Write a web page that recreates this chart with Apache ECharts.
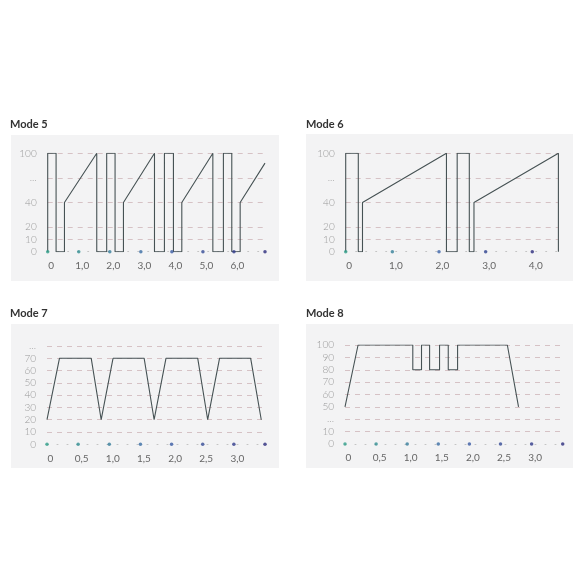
<!doctype html>
<html lang="en">
<head>
  <meta charset="utf-8">
  <title>Modes</title>
  <script src="https://cdn.jsdelivr.net/npm/echarts@6/dist/echarts.min.js"></script>
  <style>
    html, body { margin: 0; padding: 0; background: #ffffff; }
    #chart { width: 585px; height: 585px; }
  </style>
</head>
<body>
  <div id="chart"></div>
  <script type="text/javascript">
    // Mode 5
    let mode5X = [0, 0, 0.27, 0.27, 0.54, 0.54, 1.58, 1.58, 1.90, 1.90, 2.17, 2.17, 2.44, 2.44, 3.44, 3.44,
                  3.76, 3.76, 4.05, 4.05, 4.32, 4.32, 5.32, 5.32, 5.66, 5.66, 5.93, 5.93, 6.20, 6.20, 7.0];
    let mode5Y = [0, 100, 100, 0, 0, 40, 100, 0, 0, 100, 100, 0, 0, 40, 100, 0,
                  0, 100, 100, 0, 0, 40, 100, 0, 0, 100, 100, 0, 0, 40, 88];
    let mode5Ticks = [0, 10, 20, 40, 70, 100];
    let mode5TickLabels = ['0', '10', '20', '40', '...', '100'];
    let mode5Steps = [0, 1, 2, 4, 6, 8];
    let mode5Dots = [0, 1, 2, 3, 4, 5, 6, 7];
    let mode5XLabels = ['0', '1,0', '2,0', '3,0', '4,0', '5,0', '6,0'];

    // Mode 6
    let mode6X = [0, 0, 0.27, 0.27, 0.36, 0.36, 2.16, 2.16, 2.39, 2.39, 2.65, 2.65, 2.75, 2.75, 4.56, 4.56];
    let mode6Y = [0, 100, 100, 0, 0, 40, 100, 0, 0, 100, 100, 0, 0, 40, 100, 0];
    let mode6Dots = [0, 1, 2, 3, 4];
    let mode6XLabels = ['0', '1,0', '2,0', '3,0', '4,0'];

    // Mode 7
    let mode7X = [0, 0.20, 0.71, 0.87, 1.06, 1.56, 1.72, 1.91, 2.42, 2.58, 2.77, 3.27, 3.44];
    let mode7Y = [20, 70, 70, 20, 70, 70, 20, 70, 70, 20, 70, 70, 20];
    let mode7Ticks = [0, 10, 20, 30, 40, 50, 60, 70, 80];
    let mode7TickLabels = ['0', '10', '20', '30', '40', '50', '60', '70', '...'];

    // Mode 8
    let mode8X = [0, 0.21, 1.09, 1.09, 1.23, 1.23, 1.36, 1.36, 1.52, 1.52, 1.66, 1.66, 1.81, 1.81, 2.61, 2.79];
    let mode8Y = [50, 100, 100, 80, 80, 100, 100, 80, 80, 100, 100, 80, 80, 100, 100, 50];
    let mode8Ticks = [0, 10, 30, 50, 60, 70, 80, 90, 100];
    let mode8TickLabels = ['0', '10', '...', '50', '60', '70', '80', '90', '100'];

    let halfDots = [0, 0.5, 1, 1.5, 2, 2.5, 3, 3.5];
    let halfXLabels = ['0', '0,5', '1,0', '1,5', '2,0', '2,5', '3,0'];
    let evenSteps = [0, 1, 2, 3, 4, 5, 6, 7, 8];

    const FONT = 'Lato';
    const LINE_COLOR = '#465254';
    const GRID_COLOR = '#d6c2c5';

    // the y axes are not linear: each labelled level sits on its own step
    const toStep = (v, ticks, steps) => {
      for (let i = 1; i < ticks.length; i++) {
        if (v <= ticks[i]) {
          const t = (v - ticks[i - 1]) / (ticks[i] - ticks[i - 1]);
          return steps[i - 1] + t * (steps[i] - steps[i - 1]);
        }
      }
      return steps[steps.length - 1];
    };

    const mix = (a, b, t) => {
      const pa = [1, 3, 5].map(i => parseInt(a.substr(i, 2), 16));
      const pb = [1, 3, 5].map(i => parseInt(b.substr(i, 2), 16));
      return 'rgb(' + pa.map((c, i) => Math.round(c + (pb[i] - c) * t)).join(',') + ')';
    };

    const panels = [
      { title: 'Mode 5', x: mode5X, y: mode5Y, ticks: mode5Ticks, labels: mode5TickLabels, steps: mode5Steps,
        dots: mode5Dots, xLabels: mode5XLabels, max: 7, interval: 1,
        grid: { left: 47.7, top: 153.3, width: 217.3, height: 98.4 }, box: [11, 135, 268, 146], titleTop: 119, titleLeft: 10 },
      { title: 'Mode 6', x: mode6X, y: mode6Y, ticks: mode5Ticks, labels: mode5TickLabels, steps: mode5Steps,
        dots: mode6Dots, xLabels: mode6XLabels, max: 4.56, interval: 1,
        grid: { left: 345.7, top: 153.3, width: 212.7, height: 98.4 }, box: [306, 134, 267, 147], titleTop: 119, titleLeft: 306 },
      { title: 'Mode 7', x: mode7X, y: mode7Y, ticks: mode7Ticks, labels: mode7TickLabels, steps: evenSteps,
        dots: halfDots, xLabels: halfXLabels, max: 3.5, interval: 0.5,
        grid: { left: 47, top: 346, width: 218, height: 98.3 }, box: [11, 324, 268, 144], titleTop: 308, titleLeft: 10 },
      { title: 'Mode 8', x: mode8X, y: mode8Y, ticks: mode8Ticks, labels: mode8TickLabels, steps: evenSteps,
        dots: halfDots, xLabels: halfXLabels, max: 3.5, interval: 0.5,
        grid: { left: 345, top: 345, width: 217.7, height: 99 }, box: [306, 324, 267, 144], titleTop: 308, titleLeft: 306 }
    ];

    let option = {
      backgroundColor: '#ffffff',
      animation: false,
      title: [],
      grid: [],
      xAxis: [],
      yAxis: [],
      series: [],
      graphic: []
    };

    panels.forEach((p, k) => {
      option.graphic.push({
        type: 'rect', z: -10,
        shape: { x: p.box[0], y: p.box[1], width: p.box[2], height: p.box[3] },
        style: { fill: '#f3f3f4' }
      });
      option.title.push({
        text: p.title, left: p.titleLeft, top: p.titleTop, padding: 0,
        textStyle: { fontFamily: FONT, fontSize: 11, fontWeight: 'bold', color: '#333333' }
      });
      option.grid.push(Object.assign({}, p.grid));

      // split line colours: only the labelled steps get a line, not the baseline
      const gridColors = evenSteps.map(s => (s !== 0 && p.steps.indexOf(s) >= 0) ? GRID_COLOR : 'rgba(0,0,0,0)');

      option.xAxis.push({
        type: 'value', gridIndex: k, min: 0, max: p.max, interval: p.interval,
        axisLine: { show: true, lineStyle: { color: '#c4c4c4', width: 1, type: [1, 9] } },
        axisTick: { show: false },
        splitLine: { show: false },
        axisLabel: {
          fontFamily: FONT, fontSize: 10, color: '#666666', margin: 9, padding: [0, 0, 0, 7],
          showMaxLabel: false,
          formatter: (v) => {
            const i = Math.round(v / p.interval);
            return Math.abs(i * p.interval - v) < 1e-6 && p.xLabels[i] !== undefined ? p.xLabels[i] : '';
          }
        }
      });
      option.yAxis.push({
        type: 'value', gridIndex: k, min: 0, max: 8, interval: 1,
        axisLine: { show: false },
        axisTick: { show: false },
        splitLine: { show: true, lineStyle: { color: gridColors, type: [5, 5], width: 1 } },
        axisLabel: {
          fontFamily: FONT, fontSize: 10, fontWeight: 300, color: '#999999', margin: 11,
          formatter: (v) => {
            const i = p.steps.indexOf(v);
            return i >= 0 ? p.labels[i] : '';
          }
        }
      });
      option.series.push({
        type: 'line', xAxisIndex: k, yAxisIndex: k,
        showSymbol: false, symbol: 'none',
        lineStyle: { color: LINE_COLOR, width: 1.1 },
        data: p.x.map((xv, i) => [xv, toStep(p.y[i], p.ticks, p.steps)]),
        z: 3
      });
      option.series.push({
        type: 'scatter', xAxisIndex: k, yAxisIndex: k,
        symbolSize: 3.5,
        data: p.dots.map(d => [d, 0]),
        itemStyle: {
          color: (params) => {
            const t = params.dataIndex / (p.dots.length - 1);
            return t < 0.5 ? mix('#2e9e88', '#3a62a8', t * 2) : mix('#3a62a8', '#2a2a7c', (t - 0.5) * 2);
          }
        },
        z: 4
      });
    });

    let chart = echarts.init(document.getElementById('chart'), null, { renderer: 'canvas' });
    chart.setOption(option);
  </script>
</body>
</html>
